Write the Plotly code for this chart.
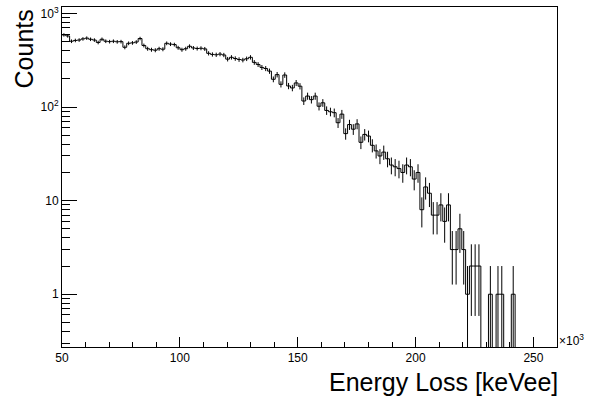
import numpy as np
import plotly.graph_objects as go

# Histogram binning (energy in units of 10^3 keVee)
x_low = 50.0
x_high = 260.0
n_bins = 130

# Bin contents, left to right
counts = [
    590, 575, 505, 515, 520, 535, 545, 530, 520, 490,
    530, 505, 500, 505, 498, 500, 435, 480, 485, 495,
    540, 455, 420, 410, 405, 420, 415, 480, 470, 465,
    430, 410, 420, 446, 428, 422, 425, 418, 375, 365,
    362, 368, 360, 325, 340, 330, 322, 318, 328, 340,
    300, 285, 265, 258, 242, 198, 222, 175, 220, 168,
    160, 181, 167, 116, 131, 120, 131, 102, 111, 92,
    89, 87, 68, 84, 52, 65, 58, 66, 42, 51,
    49, 39, 34, 30, 33, 28, 24, 23, 22, 20,
    24, 23, 17, 20, 8, 14, 12, 7, 7, 9,
    6, 9, 3, 3, 5, 3, 1, 2, 2, 2,
    0, 0, 1, 0, 1, 1, 0, 0, 1, 0,
    0, 0, 0, 0, 0, 0, 0, 0, 0, 0,
]

x_tick_vals = [50, 100, 150, 200, 250]
x_tick_text = ["50", "100", "150", "200", "250"]
y_tick_vals = [1, 10, 100, 1000]
y_tick_text = ["1", "10", "10<sup>2</sup>", "10<sup>3</sup>"]

y_log_range = [-0.564, 3.069]
floor = 10 ** (y_log_range[0] - 1)  # empty bins drop below the frame

edges = np.linspace(x_low, x_high, n_bins + 1)
centers = 0.5 * (edges[:-1] + edges[1:])
vals = np.array(counts, dtype=float)
plot_vals = np.where(vals > 0, vals, floor)

# step outline
step_x = list(edges)
step_y = list(plot_vals) + [plot_vals[-1]]

# vertical Poisson error bars for filled bins
ex, ey = [], []
for c, v in zip(centers, vals):
    if v <= 0:
        continue
    err = np.sqrt(v)
    lo = v - err if v - err > 0 else floor
    ex += [c, c, None]
    ey += [lo, v + err, None]

font_family = "Liberation Sans, Arial, Helvetica, sans-serif"

fig = go.Figure()
fig.add_trace(go.Scatter(
    x=ex, y=ey, mode="lines",
    line=dict(color="black", width=1),
    hoverinfo="skip", showlegend=False,
))
fig.add_trace(go.Scatter(
    x=step_x, y=step_y, mode="lines", line_shape="hv",
    line=dict(color="black", width=1),
    showlegend=False,
))

# minor tick positions on the log axis
y_minor = [m * 10 ** d for d in range(-1, 4) for m in range(2, 10)]

fig.update_layout(
    width=603, height=397,
    margin=dict(l=62, r=46, t=5, b=50),
    paper_bgcolor="white", plot_bgcolor="white",
    font=dict(family=font_family, color="black"),
    xaxis=dict(
        range=[x_low, x_high],
        showgrid=False, zeroline=False,
        showline=True, linecolor="black", linewidth=1, mirror=True,
        ticks="inside", ticklen=10, tickwidth=1, tickcolor="black",
        tickmode="array", tickvals=x_tick_vals, ticktext=x_tick_text,
        tickfont=dict(size=12),
        minor=dict(ticks="inside", ticklen=5, tickwidth=1, tickcolor="black",
                   dtick=10, tick0=50, showgrid=False),
    ),
    yaxis=dict(
        type="log", range=y_log_range,
        showgrid=False, zeroline=False,
        showline=True, linecolor="black", linewidth=1, mirror=True,
        ticks="inside", ticklen=15, tickwidth=1, tickcolor="black",
        tickmode="array", tickvals=y_tick_vals, ticktext=y_tick_text,
        tickfont=dict(size=12),
        minor=dict(ticks="inside", ticklen=8, tickwidth=1, tickcolor="black",
                   tickmode="array", tickvals=y_minor, showgrid=False),
    ),
    annotations=[
        dict(text="Energy Loss [keVee]", xref="paper", yref="paper",
             x=1.0, y=-0.102, xanchor="right", yanchor="middle", xshift=3,
             showarrow=False, font=dict(size=25)),
        dict(text="Counts", xref="paper", yref="paper",
             x=-0.0768, y=1.0, xanchor="center", yanchor="top",
             textangle=-90, showarrow=False, font=dict(size=25)),
        dict(text="\u00d710<sup>3</sup>", xref="paper", yref="paper",
             x=1.0, y=0.02, xanchor="left", yanchor="middle", xshift=0,
             showarrow=False, font=dict(size=12)),
    ],
)

fig.write_html("out.html")
